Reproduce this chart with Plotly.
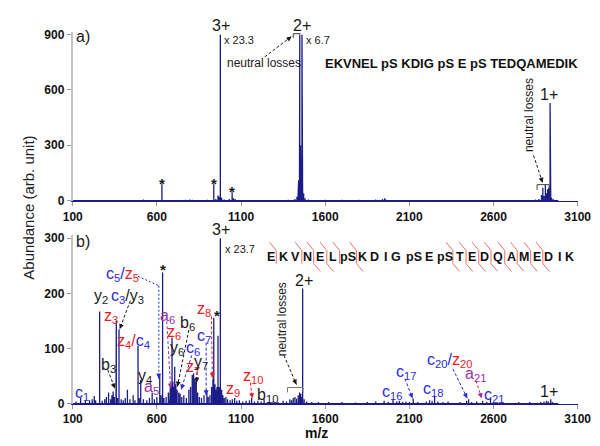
import plotly.graph_objects as go

W, H = 600, 446

# ---------------- data ----------------
tick_vals = [100, 600, 1100, 1600, 2100, 2600, 3100]
a_ticks = [0, 300, 600, 900]
b_ticks = [0, 100, 200, 300]

# panel a) peaks (m/z, abundance)
a_mz = [150, 200, 260, 330, 400, 480, 520, 560, 600, 630, 680, 720, 770, 795, 810, 850, 900,
        938, 950, 963, 970, 977, 985, 1000, 1030, 1047, 1055, 1065, 1100, 1150, 1200, 1250,
        1300, 1350, 1380, 1420, 1432, 1438, 1442, 1447, 1449, 1453, 1457, 1462, 1466, 1472,
        1480, 1500, 1550, 1600, 1650, 1700, 1750, 1800, 1850, 1900, 1940, 1953, 1960, 2000,
        2100, 2200, 2300, 2400, 2500, 2600, 2700, 2800, 2850, 2870, 2885, 2893, 2900, 2908,
        2915, 2921, 2928, 2932, 2936, 2940, 2945, 2955, 2970]
a_int = [2, 3, 2, 2, 3, 3, 5, 3, 3, 88, 3, 3, 4, 6, 4, 3, 4,
         88, 8, 28, 20, 900, 15, 6, 8, 45, 12, 8, 3, 2, 3, 2,
         3, 3, 4, 8, 20, 88, 110, 380, 900, 300, 150, 900, 170, 40,
         12, 5, 3, 4, 3, 4, 3, 4, 3, 5, 8, 12, 6, 3,
         2, 3, 2, 3, 2, 3, 2, 3, 5, 8, 30, 70, 25, 88,
         40, 61, 70, 20, 529, 326, 15, 8, 3]

# panel b) peaks (m/z, abundance)
b_mz = [120, 147, 175, 200, 216, 228, 236, 260, 275, 290, 300, 313, 325, 333, 340, 347, 357,
        359, 366, 375, 388, 400, 412, 425, 440, 459, 470, 488, 495, 504, 520, 540, 556, 572,
        585, 600, 617, 625, 634, 642, 655, 668, 676, 680, 685, 690, 695, 700, 706, 713, 720,
        730, 738, 748, 760, 775, 790, 800, 810, 818, 826, 834, 842, 852, 865, 880, 897, 905,
        915, 925, 933, 938, 945, 950, 957, 963, 970, 977, 985, 992, 1000, 1010, 1020, 1035,
        1048, 1062, 1075, 1090, 1110, 1130, 1150, 1163, 1180, 1200, 1220, 1237, 1260, 1290,
        1320, 1350, 1370, 1390, 1400, 1410, 1420, 1430, 1440, 1448, 1455, 1460, 1466, 1475,
        1490, 1520, 1560, 1620, 1700, 1780, 1850, 1900, 1950, 1975, 2003, 2025, 2040, 2060,
        2080, 2100, 2123, 2150, 2200, 2220, 2235, 2250, 2270, 2300, 2330, 2400, 2440, 2452,
        2470, 2500, 2535, 2560, 2582, 2650, 2750, 2815, 2880, 2900, 2915, 2925, 2940, 2950]
b_int = [4, 10, 5, 6, 8, 14, 6, 167, 5, 8, 12, 20, 8, 15, 22, 12, 43,
         150, 10, 135, 8, 6, 10, 25, 8, 15, 6, 105, 10, 43, 8, 6, 10, 20,
         8, 12, 50, 15, 238, 10, 12, 20, 25, 30, 32, 120, 40, 30, 67, 35, 25,
         20, 18, 12, 15, 10, 25, 30, 52, 55, 45, 40, 20, 12, 10, 15, 20, 12,
         15, 30, 45, 156, 35, 25, 30, 123, 30, 300, 25, 15, 10, 12, 8, 6,
         8, 10, 5, 6, 4, 5, 6, 10, 4, 5, 4, 8, 3, 4,
         3, 5, 4, 8, 6, 10, 12, 9, 15, 20, 18, 12, 209, 8,
         4, 3, 3, 3, 3, 2, 3, 4, 5, 3, 8, 4, 5, 3,
         4, 3, 9, 3, 4, 6, 5, 14, 4, 3, 4, 3, 5, 8,
         3, 4, 5, 3, 9, 2, 3, 3, 3, 4, 5, 4, 8, 3]

title_a = "EKVNEL pS KDIG pS E pS TEDQAMEDIK"
sequence_b = ["E", "K", "V", "N", "E", "L", "pS", "K", "D", "I", "G", "pS",
              "E", "pS", "T", "E", "D", "Q", "A", "M", "E", "D", "I", "K"]

# ---------------- styling / layout helpers ----------------
SPEC = "#1c1c88"
BLUE = "#2b2bd8"
RED = "#ec1c24"
PURP = "#a0309c"
BLK = "#1a1a1a"
FONT = "Liberation Sans, Arial, sans-serif"

X0, X1 = 57, 583          # pixel extent of x axes
A_Y0, A_Y900 = 193.3, 23.3
B_Y0, B_Y300 = 401.5, 232.0


def fx(px):
    return px / W


def fy(py):
    return 1 - py / H


def stick_xy(mz, inten, start, end):
    xs, ys = [start], [0]
    for m, h in sorted(zip(mz, inten)):
        xs += [m, m, m]
        ys += [0, h, 0]
    xs.append(end)
    ys.append(0)
    return xs, ys


fig = go.Figure()
ax_, ay_ = stick_xy(a_mz, a_int, 100, 2985)
bx_, by_ = stick_xy(b_mz, b_int, 100, 2985)
fig.add_trace(go.Scatter(x=ax_, y=ay_, mode="lines", line=dict(color=SPEC, width=1.3),
                         xaxis="x", yaxis="y", hoverinfo="skip", showlegend=False))
fig.add_trace(go.Scatter(x=bx_, y=by_, mode="lines", line=dict(color=SPEC, width=1.3),
                         xaxis="x2", yaxis="y2", hoverinfo="skip", showlegend=False))

# y ranges derived from pixel calibration
a_scale = (A_Y0 - A_Y900) / 900.0
b_scale = (B_Y0 - B_Y300) / 300.0
a_bot_px, a_top_px = 194.0, 20.0
b_bot_px, b_top_px = 402.0, 229.0
a_range = [(A_Y0 - a_bot_px) / a_scale, (A_Y0 - a_top_px) / a_scale]
b_range = [(B_Y0 - b_bot_px) / b_scale, (B_Y0 - b_top_px) / b_scale]

tickfont = dict(family=FONT, size=12, color="#111", weight="bold")
xcommon = dict(range=[100, 3100], tickvals=tick_vals, ticktext=[str(v) for v in tick_vals],
               showline=True, linecolor=SPEC, linewidth=1, ticks="outside", ticklen=4,
               tickcolor="#999", showgrid=False, zeroline=False, tickfont=tickfont,
               domain=[fx(X0), fx(X1)])
ycommon = dict(showline=True, linecolor="#c4c4c4", linewidth=2, ticks="outside", ticklen=4,
               tickcolor="#999", showgrid=False, zeroline=False, tickfont=tickfont)

fig.update_layout(
    width=W, height=H, margin=dict(l=0, r=0, t=0, b=0),
    paper_bgcolor="white", plot_bgcolor="white", showlegend=False,
    xaxis=dict(anchor="y", **xcommon),
    yaxis=dict(anchor="x", range=a_range, tickvals=a_ticks,
               domain=[fy(a_bot_px), fy(a_top_px)], **ycommon),
    xaxis2=dict(anchor="y2", **xcommon),
    yaxis2=dict(anchor="x2", range=b_range, tickvals=b_ticks,
                domain=[fy(b_bot_px), fy(b_top_px)], **ycommon),
)

annotations = []
shapes = []


def txt(x, y, text, size=15, color=BLK, bold=False, angle=0, xanchor="center"):
    annotations.append(dict(x=fx(x), y=fy(y), xref="paper", yref="paper", text=text,
                            showarrow=False, xanchor=xanchor, yanchor="middle",
                            textangle=angle,
                            font=dict(family=FONT, size=size, color=color,
                                      weight="bold" if bold else "normal")))


def dline(pts, color, dash="3px,2px", width=1, head=True):
    for (x0, y0), (x1, y1) in zip(pts[:-1], pts[1:]):
        shapes.append(dict(type="line", xref="paper", yref="paper",
                           x0=fx(x0), y0=fy(y0), x1=fx(x1), y1=fy(y1),
                           line=dict(color=color, width=width, dash=dash)))
    if head:
        (xa, ya), (xb, yb) = pts[-2], pts[-1]
        dx, dy = xa - xb, ya - yb
        n = (dx * dx + dy * dy) ** 0.5
        annotations.append(dict(x=fx(xb), y=fy(yb), xref="paper", yref="paper", text="",
                                showarrow=True, ax=dx / n * 7, ay=dy / n * 7,
                                arrowhead=2, arrowsize=1, arrowwidth=1, arrowcolor=color,
                                standoff=0))


def bracket(x0, x1, y, drop, color):
    shapes.append(dict(type="path", xref="paper", yref="paper",
                       path=f"M{fx(x0)},{fy(y + drop)} L{fx(x0)},{fy(y)} L{fx(x1)},{fy(y)} L{fx(x1)},{fy(y + drop)}",
                       line=dict(color=color, width=1)))


def sp(t, c):
    return f"<span style='color:{c}'>{t}</span>"


# ---- axis titles ----
txt(10, 201, "Abundance (arb. unit)", size=15, color="#222", angle=-90)
txt(311, 432, "m/z", size=14, bold=True, color="#111")

# ---- panel a ----
txt(68, 25, "a)", size=16)
txt(211, 14, "3+", size=16)
txt(230, 29, "x 23.3", size=11)
txt(296, 14, "2+", size=16)
txt(312, 29, "x 6.7", size=11)
txt(256, 52, "neutral losses", size=12)
dline([(257, 46), (285, 25)], BLK)
shapes.append(dict(type="path", xref="paper", yref="paper",
                   path=f"M{fx(286.7)},{fy(26.5)} L{fx(286.7)},{fy(22.3)} L{fx(294.5)},{fy(22.3)}",
                   line=dict(color="#333", width=1)))
txt(452, 53, title_a, size=13, bold=True, color="#111")
txt(533, 106, "neutral losses", size=12, angle=-90)
dline([(537, 147), (546.5, 175)], BLK)
bracket(540.7, 553.3, 177, 5.5, "#444")
txt(553, 85, "1+", size=16)
for (x, y) in [(150, 176), (204, 176), (223, 184)]:
    txt(x, y, "*", size=15, bold=True)

# ---- panel b ----
txt(68, 235, "b)", size=16)
txt(211, 223, "3+", size=16)
txt(231, 243, "x 23.7", size=11)
txt(298, 275, "2+", size=16)
txt(553, 389, "1+", size=16)
txt(275, 315, "neutral losses", size=12, angle=-90)
dline([(277, 352), (290, 382)], BLK)
bracket(280.7, 296.7, 385, 5, "#777")
txt(151, 264, "*", size=15, bold=True)
txt(207, 311, "*", size=15, bold=True)

ion_labels = [
    ("c<sub>1</sub>", 67, 391, BLUE),
    ("y<sub>2</sub>", 86, 292, BLK),
    (sp("c<sub>3</sub>", BLUE) + "/" + sp("y<sub>3</sub>", BLK), 114, 292, BLK),
    ("z<sub>3</sub>", 97, 312, RED),
    (sp("z<sub>4</sub>", RED) + "/" + sp("c<sub>4</sub>", BLUE), 120, 338, RED),
    ("b<sub>3</sub>", 94, 362, BLK),
    ("y<sub>4</sub>", 132, 374, BLK),
    (sp("c<sub>5</sub>", BLUE) + "/" + sp("z<sub>5</sub>", RED), 109, 269, BLUE),
    ("a<sub>5</sub>", 139, 385, PURP),
    ("a<sub>6</sub>", 156, 312, PURP),
    ("z<sub>6</sub>", 163, 329, RED),
    ("b<sub>6</sub>", 177, 319, BLK),
    ("y<sub>6</sub>", 166, 345, BLK),
    ("c<sub>6</sub>", 182, 345, BLUE),
    ("c<sub>7</sub>", 194, 333, BLUE),
    ("z<sub>7</sub>", 182, 365, RED),
    ("y<sub>7</sub>", 191, 359, BLK),
    ("z<sub>8</sub>", 194, 305, RED),
    ("z<sub>9</sub>", 224, 387, RED),
    ("z<sub>10</sub>", 245, 374, RED),
    ("b<sub>10</sub>", 260, 393, BLK),
    ("c<sub>16</sub>", 390, 390, BLUE),
    ("c<sub>17</sub>", 404, 370, BLUE),
    ("c<sub>18</sub>", 432, 387, BLUE),
    (sp("c<sub>20</sub>", BLUE) + sp("/", BLUE) + sp("z<sub>20</sub>", RED), 449, 357, BLUE),
    ("a<sub>21</sub>", 477, 372, PURP),
    ("c<sub>21</sub>", 496, 393, BLUE),
]
for t, x, y, c in ion_labels:
    txt(x, y, t, size=16, color=c)

# dashed assignment arrows (tail ... tip)
dline([(125, 271), (146.7, 280.7), (146.7, 376)], BLUE, dash="2px,2px")
dline([(117, 296), (106, 325)], BLK)
dline([(93.5, 367), (101, 386)], BLK)
dline([(155, 317), (159, 386)], PURP)
dline([(178, 326), (166, 384)], BLK)
dline([(181, 352), (170, 387)], BLUE)
dline([(187, 364), (186, 380)], BLK)
dline([(196, 339), (196, 393)], BLUE)
dline([(201.5, 312), (202.5, 375)], RED)
dline([(242, 380), (244, 396)], RED)
dline([(403, 376), (411, 396)], BLUE)
dline([(453, 366), (468, 396)], BLUE)
dline([(477, 378), (483, 396)], PURP)

# sequence with cleavage marks
seq_x = [263.3, 276.7, 289.3, 301.7, 314.3, 327.7, 343.8, 358.5, 371.7, 383.3, 394, 412,
         428.3, 444.3, 460, 473, 486, 500, 514, 527, 540.7, 553, 564, 574]
for r, x in zip(sequence_b, seq_x):
    txt(x, 251, r, size=12.5, bold=True, color="#111")

cleavages = [(269, True, False), (295.7, True, False), (308, True, True), (321.7, True, True),
             (335, True, False), (352.5, True, True), (453, True, True), (466.7, True, True),
             (480, True, True), (492.7, True, True), (507, True, True), (520, True, True),
             (534, True, True), (546.7, True, True)]
MARK = "#e84848"
for x, top, bot in cleavages:
    pts = []
    if top:
        pts.append((x - 7, 236))
    pts += [(x, 244.5), (x, 258)]
    if bot:
        pts.append((x + 7, 266))
    path = "M" + " L".join(f"{fx(a)},{fy(b)}" for a, b in pts)
    shapes.append(dict(type="path", xref="paper", yref="paper", path=path,
                       line=dict(color=MARK, width=0.8)))

fig.update_layout(annotations=annotations, shapes=shapes)
fig.write_html("out.html")
